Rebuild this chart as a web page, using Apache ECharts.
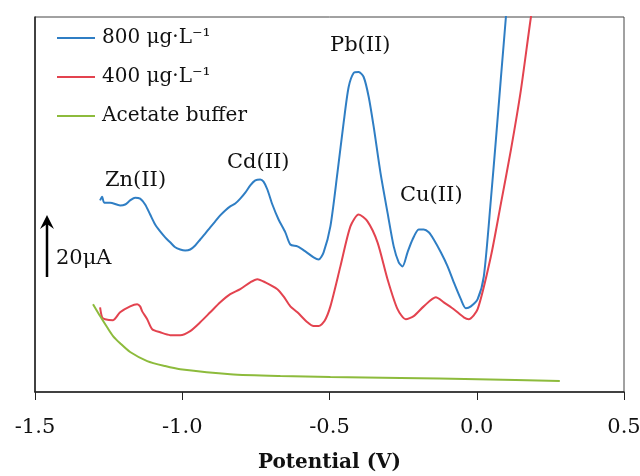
<!DOCTYPE html>
<html>
<head>
<meta charset="utf-8">
<script src="https://cdn.jsdelivr.net/npm/echarts@6/dist/echarts.min.js"></script>
<style>
  html, body { margin: 0; padding: 0; background: #fff; }
  #chart { width: 640px; height: 476px; }
</style>
</head>
<body>
<div id="chart"></div>
<script>
  // x ticks
  const xTicks = [-1.5, -1.0, -0.5, 0.0, 0.5]

  // 800 ug/L (blue)
  const potential800 = [-1.279, -1.272, -1.265, -1.245, -1.211, -1.194, -1.177, -1.160, -1.143, -1.126,
    -1.109, -1.092, -1.075, -1.058, -1.041, -1.024, -1.007, -0.990, -0.973, -0.956,
    -0.939, -0.922, -0.905, -0.888, -0.871, -0.854, -0.837, -0.820, -0.803, -0.786,
    -0.769, -0.752, -0.735, -0.724, -0.711, -0.694, -0.673, -0.650, -0.633, -0.609,
    -0.582, -0.554, -0.537, -0.520, -0.497, -0.473, -0.452, -0.435, -0.418, -0.401,
    -0.384, -0.367, -0.350, -0.327, -0.303, -0.282, -0.265, -0.252, -0.235, -0.218,
    -0.197, -0.180, -0.163, -0.146, -0.122, -0.099, -0.078, -0.054, -0.037, -0.020,
    0.003, 0.024, 0.048, 0.065, 0.082, 0.099, 0.116]
  const current800 = [61.3, 62.5, 60.6, 60.6, 59.7, 60.0, 61.3, 62.2, 61.9, 60.0,
    56.8, 53.6, 51.4, 49.5, 47.9, 46.3, 45.6, 45.3, 45.6, 46.9,
    48.8, 50.7, 52.7, 54.6, 56.5, 58.1, 59.4, 60.3, 61.9, 63.8,
    66.1, 67.7, 68.0, 67.3, 64.8, 60.0, 55.2, 51.1, 47.2, 46.6,
    45.0, 43.1, 42.4, 44.7, 53.0, 70.2, 86.2, 97.6, 102.1, 102.4,
    100.8, 94.5, 84.9, 70.2, 57.4, 46.6, 41.5, 40.2, 44.7, 48.8,
    52.0, 52.0, 51.1, 48.8, 44.7, 40.2, 35.1, 29.7, 26.8, 27.4,
    29.7, 37.0, 61.6, 80.7, 100.5, 120.0, 140.0]

  // 400 ug/L (red)
  const potential400 = [-1.279, -1.272, -1.262, -1.235, -1.211, -1.177, -1.153, -1.143, -1.136, -1.119,
    -1.102, -1.075, -1.041, -1.007, -0.973, -0.939, -0.905, -0.871, -0.837, -0.803,
    -0.769, -0.745, -0.718, -0.677, -0.656, -0.633, -0.609, -0.575, -0.554, -0.537,
    -0.517, -0.497, -0.463, -0.429, -0.401, -0.371, -0.337, -0.303, -0.269, -0.241,
    -0.214, -0.180, -0.139, -0.112, -0.078, -0.044, -0.027, 0.003, 0.048, 0.082,
    0.116, 0.150, 0.184, 0.200]
  const current400 = [27.1, 23.9, 23.3, 23.0, 25.5, 27.4, 28.1, 27.4, 25.8, 23.3,
    20.1, 19.1, 18.2, 18.2, 19.5, 22.3, 25.5, 28.7, 31.3, 32.9,
    35.1, 36.1, 35.1, 32.9, 30.6, 27.4, 25.5, 22.3, 21.1, 21.1,
    22.7, 27.4, 40.2, 53.0, 56.8, 54.6, 47.9, 36.1, 26.5, 23.3,
    24.3, 27.4, 30.3, 28.7, 26.5, 23.9, 23.3, 26.5, 43.4, 60.3,
    77.5, 96.7, 120.0, 129.0]

  // acetate buffer (green)
  const potentialBuffer = [-1.303, -1.279, -1.255, -1.235, -1.211, -1.177, -1.119, -1.058, -1.007, -0.837,
    -0.667, -0.497, -0.259, 0.003, 0.282]
  const currentBuffer = [28.1, 24.3, 20.7, 17.9, 15.6, 12.8, 9.9, 8.3, 7.3, 5.7,
    5.1, 4.8, 4.5, 4.1, 3.5]

  const seriesNames = ['800 μg·L⁻¹', '400 μg·L⁻¹', 'Acetate buffer']
  const seriesColors = ['#2f7ec4', '#e3434f', '#8dbb3c']

  const peakLabels = ['Zn(II)', 'Cd(II)', 'Pb(II)', 'Cu(II)']

  function zip(xs, ys) {
    return xs.map(function (x, i) { return [x, ys[i]] })
  }

  const serif = '"DejaVu Serif", "Liberation Serif", serif'
  const chart = echarts.init(document.getElementById('chart'))

  const lines = [
    zip(potential800, current800),
    zip(potential400, current400),
    zip(potentialBuffer, currentBuffer)
  ]

  chart.setOption({
    animation: false,
    backgroundColor: '#fff',
    grid: {
      left: 35, right: 16, top: 17, bottom: 84,
      outerBoundsMode: 'none',
      show: true, borderColor: '#444', borderWidth: 1
    },
    legend: {
      orient: 'vertical',
      left: 57, top: 28,
      padding: 0,
      icon: 'rect',
      itemWidth: 38, itemHeight: 2,
      itemGap: 19,
      textStyle: {fontFamily: serif, fontSize: 20, color: '#111', padding: [0, 0, 0, 2]},
      data: seriesNames
    },
    xAxis: {
      type: 'value',
      min: xTicks[0], max: xTicks[xTicks.length - 1], interval: 0.5,
      axisLine: {lineStyle: {color: '#222', width: 1.5}},
      axisTick: {length: 8, lineStyle: {color: '#222'}},
      splitLine: {show: false},
      axisLabel: {
        margin: 25, fontFamily: serif, fontSize: 21, color: '#111',
        formatter: function (v) { return v.toFixed(1) }
      },
      name: 'Potential (V)',
      nameLocation: 'middle',
      nameGap: 61,
      nameTextStyle: {fontFamily: serif, fontSize: 20, fontWeight: 'bold', color: '#111'}
    },
    yAxis: {
      type: 'value',
      min: 0, max: 120,
      axisLine: {show: true, onZero: false, lineStyle: {color: '#222', width: 1.5}},
      axisTick: {show: false},
      axisLabel: {show: false},
      splitLine: {show: false}
    },
    graphic: [
      // 20 uA scale arrow
      {type: 'line', shape: {x1: 47, y1: 277, x2: 47, y2: 220}, style: {stroke: '#000', lineWidth: 2.5}},
      {type: 'polygon', shape: {points: [[47, 215], [40, 229], [47, 224], [54, 229]]}, style: {fill: '#000'}},
      {type: 'text', left: 56, top: 248, style: {text: '20μA', font: '21px ' + serif, fill: '#111'}},
      // peak labels
      {type: 'text', left: 105, top: 170, style: {text: peakLabels[0], font: '21px ' + serif, fill: '#111'}},
      {type: 'text', left: 227, top: 152, style: {text: peakLabels[1], font: '21px ' + serif, fill: '#111'}},
      {type: 'text', left: 330, top: 35, style: {text: peakLabels[2], font: '21px ' + serif, fill: '#111'}},
      {type: 'text', left: 400, top: 185, style: {text: peakLabels[3], font: '21px ' + serif, fill: '#111'}}
    ],
    series: seriesNames.map(function (name, i) {
      return {
        name: name,
        type: 'line',
        data: lines[i],
        symbol: 'none',
        smooth: 0.25,
        clip: true,
        color: seriesColors[i],
        lineStyle: {width: 2, color: seriesColors[i]}
      }
    })
  })
</script>
</body>
</html>
